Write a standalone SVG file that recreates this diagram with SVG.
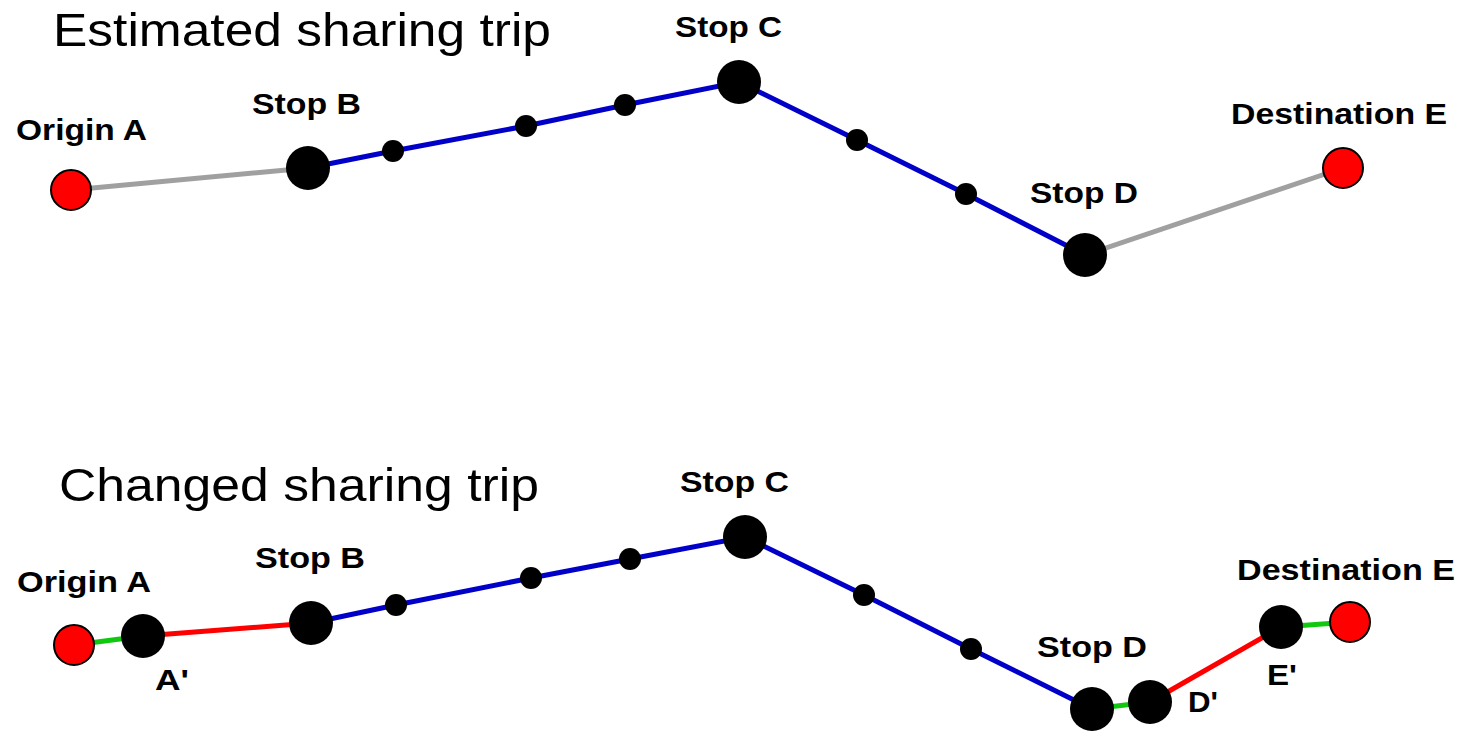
<svg xmlns="http://www.w3.org/2000/svg" width="1478" height="731" viewBox="0 0 1478 731">
<style>
.title{font-family:"Liberation Sans",Arial,sans-serif;font-size:47px;fill:#000}
.lbl{font-family:"Liberation Sans",Arial,sans-serif;font-size:30px;font-weight:bold;fill:#000}
.gray{stroke:#a0a0a0;stroke-width:5;fill:none}
.blue{stroke:#0000c8;stroke-width:5;fill:none}
.red{stroke:#ff0000;stroke-width:5;fill:none}
.green{stroke:#10c810;stroke-width:5;fill:none}
.od{fill:#ff0000;stroke:#000;stroke-width:2}
.stop{fill:#000}
</style>
<rect width="1478" height="731" fill="#fff"/>
<text class="title" x="53" y="46" textLength="498" lengthAdjust="spacingAndGlyphs">Estimated sharing trip</text>
<text class="title" x="59" y="501" textLength="480" lengthAdjust="spacingAndGlyphs">Changed sharing trip</text>
<g id="connectors">
<line class="gray" x1="71" y1="190" x2="308" y2="168"/>
<polyline class="blue" points="308,168 393,151 526,126 625,105 739,82 857,140 966,194 1085,255"/>
<line class="gray" x1="1085" y1="255" x2="1343" y2="168"/>
<line class="green" x1="74" y1="645" x2="143" y2="636"/>
<line class="red" x1="143" y1="636" x2="311" y2="623"/>
<polyline class="blue" points="311,623 396,605 531,578 630,559 745,537 864,595 971,649 1092,709"/>
<line class="green" x1="1092" y1="709" x2="1150" y2="702"/>
<line class="red" x1="1150" y1="702" x2="1281" y2="627"/>
<line class="green" x1="1281" y1="627" x2="1350" y2="622"/>
</g>
<g id="top-origin-a"><circle class="od" cx="71" cy="190" r="20"/><text class="lbl" x="16" y="140" textLength="131" lengthAdjust="spacingAndGlyphs">Origin A</text></g>
<g id="top-stop-b"><circle class="stop" cx="308" cy="168" r="22"/><text class="lbl" x="252" y="114" textLength="109" lengthAdjust="spacingAndGlyphs">Stop B</text></g>
<g id="top-dot-1"><circle class="stop" cx="393" cy="151" r="11"/></g>
<g id="top-dot-2"><circle class="stop" cx="526" cy="126" r="11"/></g>
<g id="top-dot-3"><circle class="stop" cx="625" cy="105" r="11"/></g>
<g id="top-stop-c"><circle class="stop" cx="739" cy="82" r="22"/><text class="lbl" x="675" y="37" textLength="107" lengthAdjust="spacingAndGlyphs">Stop C</text></g>
<g id="top-dot-4"><circle class="stop" cx="857" cy="140" r="11"/></g>
<g id="top-dot-5"><circle class="stop" cx="966" cy="194" r="11"/></g>
<g id="top-stop-d"><circle class="stop" cx="1085" cy="255" r="22"/><text class="lbl" x="1030" y="203" textLength="108" lengthAdjust="spacingAndGlyphs">Stop D</text></g>
<g id="top-dest-e"><circle class="od" cx="1343" cy="168" r="20"/><text class="lbl" x="1231" y="124" textLength="216" lengthAdjust="spacingAndGlyphs">Destination E</text></g>
<g id="bot-origin-a"><circle class="od" cx="74" cy="645" r="20"/><text class="lbl" x="17" y="592" textLength="134" lengthAdjust="spacingAndGlyphs">Origin A</text></g>
<g id="bot-a-prime"><circle class="stop" cx="143" cy="636" r="22"/><text class="lbl" x="155" y="690" textLength="34" lengthAdjust="spacingAndGlyphs">A'</text></g>
<g id="bot-stop-b"><circle class="stop" cx="311" cy="623" r="22"/><text class="lbl" x="255" y="568" textLength="110" lengthAdjust="spacingAndGlyphs">Stop B</text></g>
<g id="bot-dot-1"><circle class="stop" cx="396" cy="605" r="11"/></g>
<g id="bot-dot-2"><circle class="stop" cx="531" cy="578" r="11"/></g>
<g id="bot-dot-3"><circle class="stop" cx="630" cy="559" r="11"/></g>
<g id="bot-stop-c"><circle class="stop" cx="745" cy="537" r="22"/><text class="lbl" x="680" y="492" textLength="109" lengthAdjust="spacingAndGlyphs">Stop C</text></g>
<g id="bot-dot-4"><circle class="stop" cx="864" cy="595" r="11"/></g>
<g id="bot-dot-5"><circle class="stop" cx="971" cy="649" r="11"/></g>
<g id="bot-stop-d"><circle class="stop" cx="1092" cy="709" r="22"/><text class="lbl" x="1037" y="657" textLength="110" lengthAdjust="spacingAndGlyphs">Stop D</text></g>
<g id="bot-d-prime"><circle class="stop" cx="1150" cy="702" r="22"/><text class="lbl" x="1188" y="712" textLength="30" lengthAdjust="spacingAndGlyphs">D'</text></g>
<g id="bot-e-prime"><circle class="stop" cx="1281" cy="627" r="22"/><text class="lbl" x="1267" y="685" textLength="30" lengthAdjust="spacingAndGlyphs">E'</text></g>
<g id="bot-dest-e"><circle class="od" cx="1350" cy="622" r="20"/><text class="lbl" x="1237" y="580" textLength="218" lengthAdjust="spacingAndGlyphs">Destination E</text></g>
</svg>
